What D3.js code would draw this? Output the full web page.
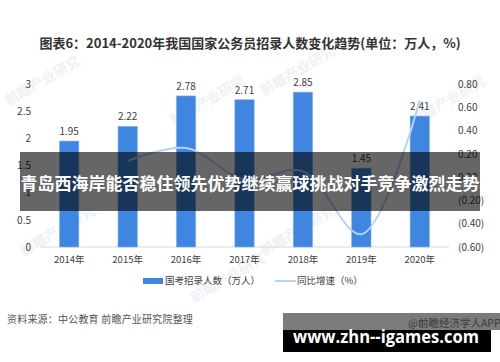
<!DOCTYPE html>
<html>
<head>
<meta charset="utf-8">
<script src="https://cdn.jsdelivr.net/npm/d3@7"></script>
<style>
  html, body { margin: 0; padding: 0; background: #fff; }
  svg { display: block; }
</style>
</head>
<body>
<svg id="chart" width="500" height="362"></svg>
<script>
// ---- data ----
const years = ["2014年", "2015年", "2016年", "2017年", "2018年", "2019年", "2020年"];
const recruits = [1.95, 2.22, 2.78, 2.71, 2.85, 1.45, 2.41];           // 国考招录人数（万人）
const growth = [null, 0.14, 0.25, -0.02, 0.05, -0.49, 0.66];           // 同比增速（%）
const leftTicks = [0, 0.5, 1, 1.5, 2, 2.5, 3];
const leftTickLabels = ["0", "0.5", "1", "1.5", "2", "2.5", "3"];
const rightTicks = [0.8, 0.6, 0.4, 0.2, 0, -0.2, -0.4, -0.6];
const rightTickLabels = ["0.80", "0.60", "0.40", "0.20", "0.00", "(0.20)", "(0.40)", "(0.60)"];
const titleText = "图表6：2014-2020年我国国家公务员招录人数变化趋势(单位：万人，%)";
const legendBar = "国考招录人数（万人）";
const legendLine = "同比增速（%）";
const sourceText = "资料来源：中公教育 前瞻产业研究院整理";
const bannerText = "青岛西海岸能否稳住领先优势继续赢球挑战对手竞争激烈走势";
const siteText = "www.zhn--igames.com";
const creditText = "@前瞻经济学人APP";

const FONT = "'Noto Sans CJK SC', 'Liberation Sans', sans-serif";
const barColor = "#3e86e0";
const lineColor = "#b4d3f6";

const svg = d3.select("#chart").style("font-family", FONT);

// faint watermarks
const wm = [[45, 85], [210, 105], [300, 75], [450, 105], [60, 235], [300, 235], [230, 282]];
svg.append("g").selectAll("text").data(wm).join("text")
  .attr("transform", d => `translate(${d[0]},${d[1]}) rotate(-30)`)
  .attr("text-anchor", "middle")
  .attr("font-size", 14).attr("font-weight", "bold")
  .attr("fill", "#eef1f5")
  .text("前瞻产业研究");

// title
svg.append("text")
  .attr("x", 250).attr("y", 43).attr("dy", "0.35em")
  .attr("text-anchor", "middle")
  .attr("font-size", 13).attr("font-weight", "bold").attr("fill", "#333")
  .text(titleText);

// scales
const x = d3.scaleBand().domain(years).range([40, 449]).paddingInner(0.67).paddingOuter(0.335);
const yL = d3.scaleLinear().domain([0, 3]).range([247, 84]);
const yR = d3.scaleLinear().domain([-0.6, 0.8]).range([247, 84]);

// baseline
svg.append("line")
  .attr("x1", x.range()[0]).attr("x2", x.range()[1])
  .attr("y1", yL(0)).attr("y2", yL(0))
  .attr("stroke", "#d9d9d9").attr("stroke-width", 1);

// left axis
const axL = svg.append("g").attr("transform", "translate(34,0)")
  .call(d3.axisLeft(yL).tickValues(leftTicks).tickSize(0).tickPadding(3)
    .tickFormat((d, i) => leftTickLabels[i]));
axL.select(".domain").remove();
axL.selectAll("text").attr("font-size", 10).attr("fill", "#404040").attr("font-family", FONT);

// right axis
const axR = svg.append("g").attr("transform", "translate(455,0)")
  .call(d3.axisRight(yR).tickValues(rightTicks).tickSize(0).tickPadding(3)
    .tickFormat((d, i) => rightTickLabels[i]));
axR.select(".domain").remove();
axR.selectAll("text").attr("font-size", 10).attr("fill", "#404040").attr("font-family", FONT);

// x axis labels
const axX = svg.append("g").attr("transform", `translate(0,${yL(0)})`)
  .call(d3.axisBottom(x).tickSize(0).tickPadding(9));
axX.select(".domain").remove();
axX.selectAll("text").attr("font-size", 9.5).attr("fill", "#404040").attr("font-family", FONT);

// bars
svg.append("g").selectAll("rect").data(recruits).join("rect")
  .attr("x", (d, i) => x(years[i]))
  .attr("width", x.bandwidth())
  .attr("y", d => yL(d))
  .attr("height", d => yL(0) - yL(d))
  .attr("fill", barColor)
  .attr("stroke", "#7fb0ee").attr("stroke-width", 0.6);

// value labels
svg.append("g").selectAll("text").data(recruits).join("text")
  .attr("x", (d, i) => x(years[i]) + x.bandwidth() / 2)
  .attr("y", d => yL(d) - 6)
  .attr("text-anchor", "middle")
  .attr("font-size", 10).attr("fill", "#404040")
  .text(d => d.toFixed(2));

// growth line
const line = d3.line()
  .defined(d => d != null)
  .x((d, i) => x(years[i]) + x.bandwidth() / 2)
  .y(d => yR(d))
  .curve(d3.curveCatmullRom.alpha(0.5));
svg.append("path")
  .attr("d", line(growth))
  .attr("fill", "none")
  .attr("stroke", lineColor)
  .attr("stroke-width", 2);

// legend
const lg = svg.append("g");
lg.append("rect").attr("x", 143).attr("y", 278).attr("width", 20).attr("height", 6).attr("fill", barColor);
lg.append("text").attr("x", 165).attr("y", 281).attr("dy", "0.35em")
  .attr("font-size", 9.5).attr("fill", "#404040").text(legendBar);
lg.append("line").attr("x1", 275).attr("x2", 296).attr("y1", 281).attr("y2", 281)
  .attr("stroke", lineColor).attr("stroke-width", 2);
lg.append("text").attr("x", 297).attr("y", 281).attr("dy", "0.35em")
  .attr("font-size", 9.5).attr("fill", "#404040").text(legendLine);

// source
svg.append("text").attr("x", 7).attr("y", 319).attr("dy", "0.35em")
  .attr("font-size", 10).attr("fill", "#555").attr("letter-spacing", 0.2).text(sourceText);

// overlay banner
svg.append("rect").attr("x", 20).attr("y", 152).attr("width", 460).attr("height", 59)
  .attr("fill", "rgba(0,0,0,0.6)");
svg.append("text").attr("x", 250).attr("y", 184).attr("dy", "0.35em")
  .attr("text-anchor", "middle")
  .attr("font-size", 17).attr("font-weight", "bold").attr("fill", "#fff")
  .text(bannerText);

// bottom site banner
svg.append("rect").attr("x", 283).attr("y", 313).attr("width", 217).attr("height", 17)
  .attr("fill", "#7b7b7b");
svg.append("text").attr("x", 408).attr("y", 327)
  .attr("font-size", 10.5).attr("fill", "#3a3a3a").text(creditText);
svg.append("rect").attr("x", 283).attr("y", 330).attr("width", 208).attr("height", 22)
  .attr("fill", "#000");
svg.append("text").attr("x", 293).attr("y", 343)
  .attr("font-family", "'Open Sans', 'Liberation Sans', sans-serif")
  .attr("font-size", 18).attr("font-weight", "bold").attr("fill", "#fff")
  .attr("textLength", 186).attr("lengthAdjust", "spacingAndGlyphs")
  .text(siteText);
</script>
</body>
</html>
